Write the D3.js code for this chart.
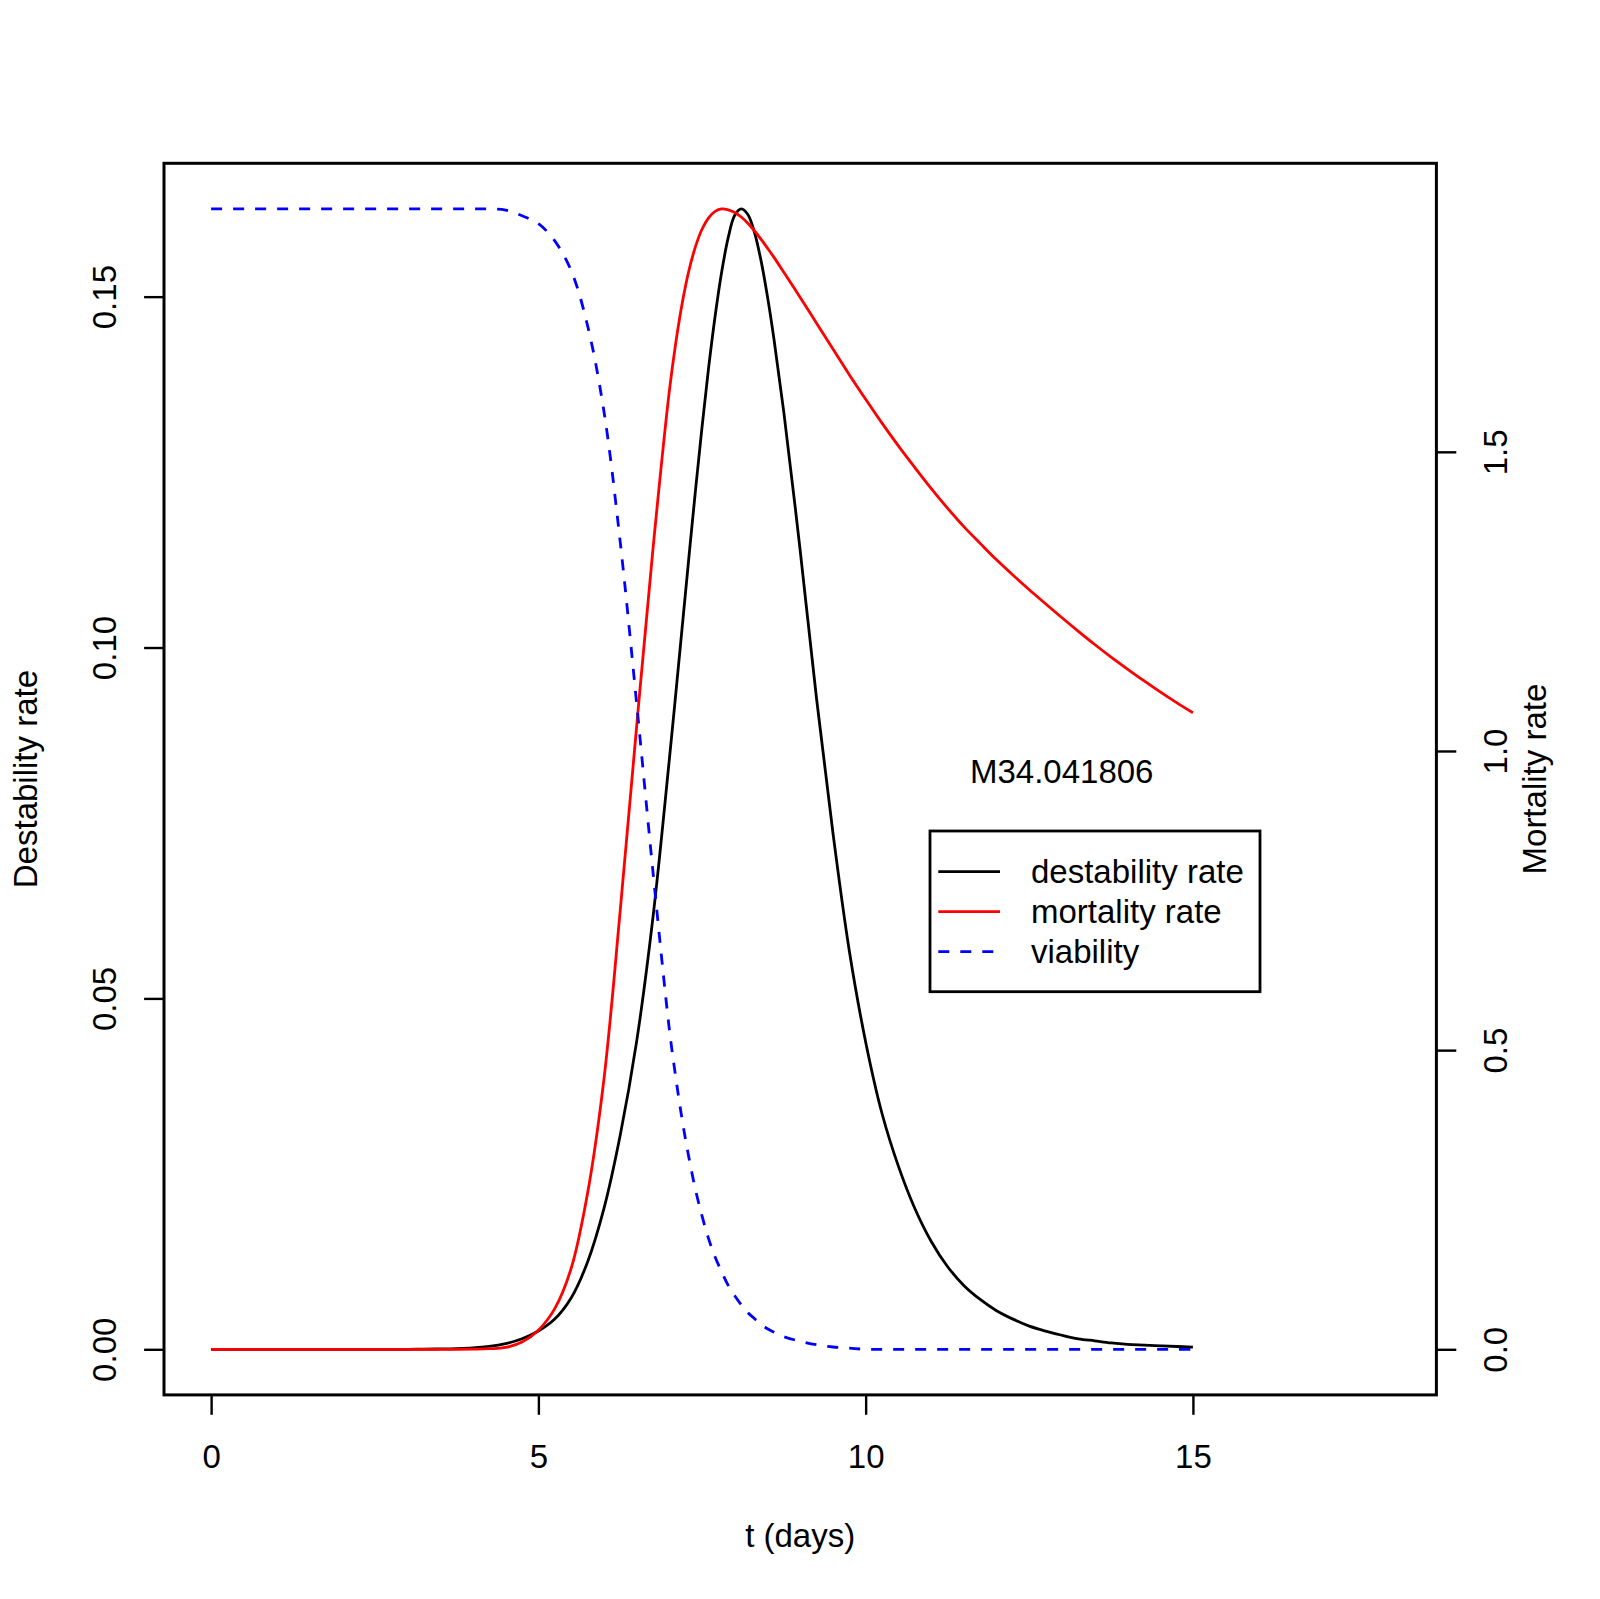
<!DOCTYPE html>
<html><head><meta charset="utf-8">
<script src="https://cdn.jsdelivr.net/npm/d3@7"></script>
<style>html,body{margin:0;padding:0;background:#fff;} svg{display:block;}</style>
</head><body><svg id="chart" width="1600" height="1599"></svg>
<script>
// ---- data ----
const t = [0,0.25,0.5,0.75,1,1.25,1.5,1.75,2,2.25,2.5,2.75,3,3.25,3.5,3.75,4,4.25,4.5,4.75,5,5.25,5.5,5.75,6,6.25,6.5,6.75,7,
  7.1,7.2,7.3,7.4,7.5,7.6,7.7,7.8,7.9,8,8.1,8.2,8.3,8.4,8.5,8.6,
  8.75,9,9.25,9.5,9.75,10,10.25,10.5,10.75,11,11.25,11.5,11.75,12,12.25,12.5,12.75,13,13.25,13.5,13.75,14,14.25,14.5,14.75,15];
const destability = [0,0,0,0,0,0,0,0,0,0,0,0,0,0.00002,0.00005,0.0001,0.0002,0.0004,0.0008,0.0015,0.0026,0.0043,0.0073,0.0124,0.0200,0.0305,0.0438,0.0615,0.0840,
  0.0935,0.1032,0.1129,0.1224,0.1314,0.1398,0.1472,0.1535,0.1584,0.1616,0.1625,0.1617,0.1592,0.1552,0.1500,0.1439,
  0.1335,0.1138,0.0927,0.0736,0.0568,0.0438,0.0336,0.0261,0.0201,0.0154,0.0118,0.0091,0.0071,0.0055,0.0043,0.0033,0.0026,0.0020,0.0015,0.0012,0.0009,0.0007,0.0006,0.0005,0.0004,0.0003];
const mortality = [0,0,0,0,0,0,0,0,0,0,0,0,0,0,0,0,0.0003,0.001,0.003,0.012,0.032,0.068,0.135,0.260,0.450,0.733,1.040,1.337,1.601,
  1.683,1.750,1.803,1.843,1.872,1.891,1.902,1.906,1.9045,1.900,1.8925,1.882,1.8695,1.8555,1.8405,1.825,
  1.800,1.758,1.715,1.672,1.629,1.588,1.548,1.510,1.474,1.439,1.406,1.375,1.347,1.3195,1.294,1.2695,1.246,1.2226,1.200,1.178,1.157,1.137,1.1175,1.0987,1.0808,1.0638];
const viability = [1,1,1,1,1,1,1,1,1,1,1,1,1,1,1,1,1,1,0.999,0.994,0.987,0.972,0.946,0.898,0.823,0.708,0.567,0.419,0.281,
  0.238,0.200,0.168,0.140,0.117,0.097,0.081,0.068,0.056,0.047,0.039,0.032,0.027,0.022,0.018,0.015,
  0.011,0.007,0.004,0.002,0.001,0,0,0,0,0,0,0,0,0,0,0,0,0,0,0,0,0,0,0,0,0];
const xLimits = [0, 18];
const xTicks = [0, 5, 10, 15];
const leftTicks = [0, 0.05, 0.10, 0.15];
const rightTicks = [0, 0.5, 1.0, 1.5];
const seriesNames = ["destability rate", "mortality rate", "viability"];
const seriesColors = ["#000000", "#ff0000", "#0000ff"];
const annotation = "M34.041806";
const xTitle = "t (days)", yLeftTitle = "Destability rate", yRightTitle = "Mortality rate";

// ---- layout ----
const FONT = "'Liberation Sans', Arial, Helvetica, sans-serif";
const FS = 33;
const box = {left: 164, right: 1436.4, top: 163.3, bottom: 1394.9};
const TICK = 19.9;
const LW = 2.8;
const svg = d3.select("#chart");
svg.append("rect").attr("width",1600).attr("height",1599).attr("fill","#fff");

function rExt(ext){ const d = ext[1]-ext[0]; return [ext[0]-0.04*d, ext[1]+0.04*d]; }
const x  = d3.scaleLinear().domain(rExt(xLimits)).range([box.left, box.right]);
const yL = d3.scaleLinear().domain(rExt(d3.extent(destability))).range([box.bottom, box.top]);
const yR = d3.scaleLinear().domain(rExt(d3.extent(mortality))).range([box.bottom, box.top]);
const yV = d3.scaleLinear().domain(rExt(d3.extent(viability))).range([box.bottom, box.top]);

// ---- curves ----
const series = [
  {vals: destability, scale: yL, dash: null},
  {vals: mortality,   scale: yR, dash: null},
  {vals: viability,   scale: yV, dash: "11,11"}
];
series.forEach((s, k) => {
  const gen = d3.line().x((d,i) => x(t[i])).y(d => s.scale(d)).curve(d3.curveCatmullRom.alpha(0.5));
  svg.append("path").datum(s.vals).attr("d", gen)
    .attr("fill","none").attr("stroke", seriesColors[k]).attr("stroke-width", LW)
    .attr("stroke-linejoin","round").attr("stroke-dasharray", s.dash);
});

// ---- axes ----
function styleAxis(g){
  g.select(".domain").remove();
  g.selectAll(".tick line").attr("stroke","#000").attr("stroke-width",2.4);
  g.selectAll("text").attr("font-family",FONT).attr("font-size",FS).attr("fill","#000");
  g.attr("font-family",FONT).attr("font-size",FS);
}
const gx = svg.append("g").attr("transform",`translate(0,${box.bottom})`)
  .call(d3.axisBottom(x).tickValues(xTicks).tickSize(TICK).tickSizeOuter(0).tickFormat(d3.format("d")));
styleAxis(gx);
gx.selectAll(".tick text").attr("y", 73.6).attr("dy", null);

const gl = svg.append("g").attr("transform",`translate(${box.left},0)`)
  .call(d3.axisLeft(yL).tickValues(leftTicks).tickSize(TICK).tickSizeOuter(0).tickFormat(d3.format(".2f")));
styleAxis(gl);
gl.selectAll(".tick text").attr("x", null).attr("dy", null).attr("text-anchor","middle")
  .attr("transform","translate(-48.4,0) rotate(-90)");

const gr = svg.append("g").attr("transform",`translate(${box.right},0)`)
  .call(d3.axisRight(yR).tickValues(rightTicks).tickSize(TICK).tickSizeOuter(0).tickFormat(d3.format(".1f")));
styleAxis(gr);
gr.selectAll(".tick text").attr("x", null).attr("dy", null).attr("text-anchor","middle")
  .attr("transform","translate(71,0) rotate(-90)");

// ---- box ----
svg.append("rect").attr("x",box.left).attr("y",box.top)
  .attr("width",box.right-box.left).attr("height",box.bottom-box.top)
  .attr("fill","none").attr("stroke","#000").attr("stroke-width",3);

// ---- titles ----
const midY = (box.top+box.bottom)/2, midX = (box.left+box.right)/2;
function txt(s, xx, yy, rot){
  const e = svg.append("text").text(s).attr("font-family",FONT).attr("font-size",FS)
    .attr("fill","#000").attr("text-anchor","middle");
  if (rot) e.attr("transform",`translate(${xx},${yy}) rotate(-90)`);
  else e.attr("x",xx).attr("y",yy);
  return e;
}
txt(xTitle, midX, 1547);
txt(yLeftTitle, 36.8, midY, true);
txt(yRightTitle, 1545.5, midY, true);

// ---- annotation ----
txt(annotation, 1061.7, 783.3);

// ---- legend ----
const lg = {x: 930, y: 831, w: 330, h: 160.7, row0: 871.7, rowH: 40, lx0: 938.3, lx1: 1000, tx: 1031};
svg.append("rect").attr("x",lg.x).attr("y",lg.y).attr("width",lg.w).attr("height",lg.h)
  .attr("fill","#fff").attr("stroke","#000").attr("stroke-width",2.8);
seriesNames.forEach((nm,k) => {
  const yy = lg.row0 + k*lg.rowH;
  svg.append("line").attr("x1",lg.lx0).attr("x2",lg.lx1).attr("y1",yy).attr("y2",yy)
    .attr("stroke",seriesColors[k]).attr("stroke-width",LW)
    .attr("stroke-dasharray", series[k].dash);
  svg.append("text").text(nm).attr("x",lg.tx).attr("y",yy+11.5)
    .attr("font-family",FONT).attr("font-size",FS).attr("fill","#000");
});
</script>
</body></html>
